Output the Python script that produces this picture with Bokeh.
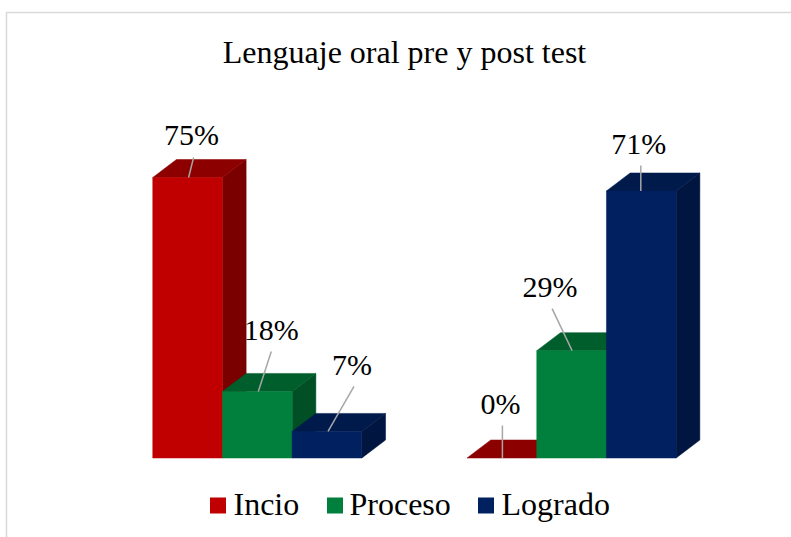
from bokeh.plotting import figure
from bokeh.models import Range1d
from bokeh.core.properties import value
from bokeh.embed import file_html
from bokeh.resources import INLINE

TITLE = "Lenguaje oral pre y post test"
GROUPS = ["Pre test", "Post test"]
SERIES = ["Incio", "Proceso", "Logrado"]
INCIO = [75, 0]
PROCESO = [17.8, 28.7]
LOGRADO = [7.1, 71.4]

FRONT = ["#C00000", "#007F3D", "#002060"]
TOP = ["#8C0000", "#005E2C", "#001A4C"]
SIDE = ["#7A0000", "#004F25", "#00153F"]

W, H = 791, 537
PX_PER_PCT = 3.74
PX_PER_GROUP = 314.3
BASE_PX = 457.5
GROUP0_PX = 256.8
BAR_PX = 69.7
DX_PX, DY_PX = 23.7, 18.0
TEXT_SHIFT = 11.0
FONT = value("Liberation Serif")

def xd(px):
    return (px - GROUP0_PX) / PX_PER_GROUP

def yd(py):
    return (BASE_PX - py) / PX_PER_PCT

p = figure(width=W, height=H, output_backend="svg", toolbar_location=None,
           x_range=Range1d(xd(0), xd(W)), y_range=Range1d(yd(H), yd(0)),
           min_border=0)
p.axis.visible = False
p.grid.visible = False
p.outline_line_color = None
p.background_fill_color = "#FFFFFF"
p.border_fill_color = "#FFFFFF"

# chart frame
p.line([xd(6), xd(6), xd(W)], [yd(H), yd(12), yd(12)], line_color="#D9D9D9", line_width=1.5)

bw = BAR_PX / PX_PER_GROUP
dx = DX_PX / PX_PER_GROUP
dy = DY_PX / PX_PER_PCT
table = [INCIO, PROCESO, LOGRADO]

for g in range(len(GROUPS)):
    for s, vals in enumerate(table):
        v = vals[g]
        x0 = g + (s - 1.5) * bw
        x1 = x0 + bw
        if v > 0:
            p.patch([x1, x1 + dx, x1 + dx, x1], [0, dy, v + dy, v],
                    fill_color=SIDE[s], line_color=SIDE[s], line_alpha=0.5, line_width=1)
        p.patch([x0, x0 + dx, x1 + dx, x1], [v, v + dy, v + dy, v],
                fill_color=TOP[s], line_color=TOP[s], line_alpha=0.5, line_width=1)
        if v > 0:
            p.patch([x0, x1, x1, x0], [0, 0, v, v],
                    fill_color=FRONT[s], line_color=FRONT[s], line_alpha=0.5, line_width=1)

# data labels: series, group, label centre dx, label baseline dy, leader start dx, leader end dx, leader end dy
LABEL_LAYOUT = [
    (0, 0, 4, -32, 1, 6, -20),
    (1, 0, 14, -51, 1, 14, -40),
    (2, 0, 25, -56, 1, 27, -45),
    (0, 1, -1.5, -43.5, 0.5, 0.5, -32.5),
    (1, 1, -21.5, -53, 0.5, -19.5, -42),
    (2, 1, -2.5, -36.5, -0.5, -0.5, -25.5),
]
for s, g, lx, ly, sx, ex, ey in LABEL_LAYOUT:
    v = table[s][g]
    cx = g + (s - 1) * bw
    p.line([cx + sx / PX_PER_GROUP, cx + ex / PX_PER_GROUP],
           [v, v - ey / PX_PER_PCT], line_color="#A6A6A6", line_width=1.5)
    p.text([cx + lx / PX_PER_GROUP], [v - (ly - TEXT_SHIFT) / PX_PER_PCT], text=[f"{round(v)}%"],
           text_font=FONT, text_font_size="30px", text_color="#000000",
           text_align="center", text_baseline="alphabetic")

# title
p.text([xd(404)], [yd(62 - TEXT_SHIFT)], text=[TITLE], text_font=FONT, text_font_size="32px",
       text_color="#000000", text_align="center", text_baseline="alphabetic")

# legend
LEG_SQ = [209.5, 326.5, 477.5]
LEG_TX = [233, 349, 501]
for s, name in enumerate(SERIES):
    p.quad(left=[xd(LEG_SQ[s])], right=[xd(LEG_SQ[s] + 16)], top=[yd(497)], bottom=[yd(513)],
           fill_color=FRONT[s], line_color=None)
    p.text([xd(LEG_TX[s])], [yd(514 - TEXT_SHIFT)], text=[name], text_font=FONT, text_font_size="32px",
           text_color="#000000", text_align="left", text_baseline="alphabetic")

open("out.html", "w").write(file_html(p, INLINE))
